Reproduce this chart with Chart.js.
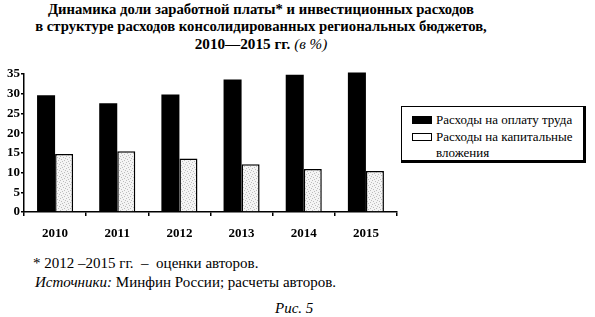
<!DOCTYPE html>
<html>
<head>
<meta charset="utf-8">
<script src="https://cdn.jsdelivr.net/npm/chart.js@4"></script>
<style>
  body { margin: 0; width: 595px; height: 317px; background: #fff; position: relative; overflow: hidden;
         font-family: "Liberation Serif", "DejaVu Serif", serif; color: #000; }
  .title { position: absolute; left: 0; width: 522px; top: 1px; text-align: center;
           font-weight: bold; font-size: 14.7px; line-height: 17px; white-space: nowrap; }
  .title i { font-weight: normal; }
  #wrap { position: absolute; left: 0; top: 60px; width: 400px; height: 190px; }
  .legend { position: absolute; left: 401px; top: 106px; width: 181px; height: 53px;
            border: 1px solid #000; border-right-width: 3px; border-bottom-width: 3px;
            font-size: 13px; line-height: 16px; }
  .legend .row { position: absolute; left: 34px; }
  .legend .sw { position: absolute; left: -24px; top: 4px; width: 20px; height: 8px; box-sizing: border-box; }
  .note { position: absolute; left: 33px; font-size: 15px; white-space: pre; }
</style>
</head>
<body>
<div class="title">Динамика доли заработной платы* и инвестиционных расходов<br>в структуре расходов консолидированных региональных бюджетов,<br><span style="font-size:15.2px">2010—2015 гг. <i>(в %)</i></span></div>
<div id="wrap"><canvas id="chart" width="400" height="190"></canvas></div>
<div class="legend">
  <div class="row" style="top:5px"><span class="sw" style="background:#000"></span>Расходы на оплату труда</div>
  <div class="row" style="top:22px"><span class="sw" style="border:1.5px solid #000;background:#fff"></span>Расходы на капитальные<br>вложения</div>
</div>
<div class="note" style="top:255px">* 2012 –2015 гг.  –  оценки авторов.</div>
<div class="note" style="top:274px;left:35px"><i>Источники:</i> Минфин России; расчеты авторов.</div>
<div class="note" style="top:300px;left:275px"><i>Рис. 5</i></div>
<script>
const years = ["2010", "2011", "2012", "2013", "2014", "2015"];
const labourCosts = [29.6, 27.6, 29.8, 33.6, 34.8, 35.4];
const capitalCosts = [14.7, 15.4, 13.6, 12.1, 10.9, 10.4];
const yTicks = [0, 5, 10, 15, 20, 25, 30, 35];

// stippled grey fill for the light bars
function stipple() {
  const c = document.createElement("canvas");
  c.width = 6; c.height = 6;
  const g = c.getContext("2d");
  g.fillStyle = "#f4f4f4";
  g.fillRect(0, 0, 6, 6);
  g.fillStyle = "#bdbdbd";
  [[0, 0], [3, 1], [1, 3], [4, 4], [5, 2], [2, 5]].forEach(p => g.fillRect(p[0], p[1], 1, 1));
  return g.createPattern(c, "repeat");
}

const tickFont = { family: "Liberation Serif", size: 13, weight: "bold" };

new Chart(document.getElementById("chart"), {
  type: "bar",
  data: {
    labels: years,
    datasets: [{
      label: "Расходы на оплату труда",
      data: labourCosts,
      backgroundColor: "#000",
      borderWidth: 0,
      clip: false
    }, {
      label: "Расходы на капитальные вложения",
      data: capitalCosts,
      backgroundColor: stipple(),
      borderColor: "#000",
      borderWidth: 1.5,
      clip: false
    }]
  },
  options: {
    responsive: false,
    animation: false,
    maintainAspectRatio: false,
    layout: { padding: { top: 14, right: 3, left: 0, bottom: 0 } },
    datasets: { bar: { categoryPercentage: 0.58, barPercentage: 1.0 } },
    plugins: { legend: { display: false }, tooltip: { enabled: false } },
    scales: {
      x: {
        grid: { offset: true, drawOnChartArea: false, color: "#000", tickLength: 4, lineWidth: 1.5 },
        border: { color: "#000", width: 1.5 },
        ticks: { color: "#000", font: tickFont, padding: 10 },
        afterFit(s) { s.height = 38; }
      },
      y: {
        min: 0, max: 35,
        afterBuildTicks(s) { s.ticks = yTicks.map(v => ({ value: v })); },
        grid: { drawOnChartArea: false, color: "#000", tickLength: 3, lineWidth: 1.5 },
        border: { color: "#000", width: 1.5 },
        ticks: { color: "#000", font: tickFont, padding: 1, autoSkip: false },
        afterFit(s) { s.width = 24; }
      }
    }
  }
});
</script>
</body>
</html>
